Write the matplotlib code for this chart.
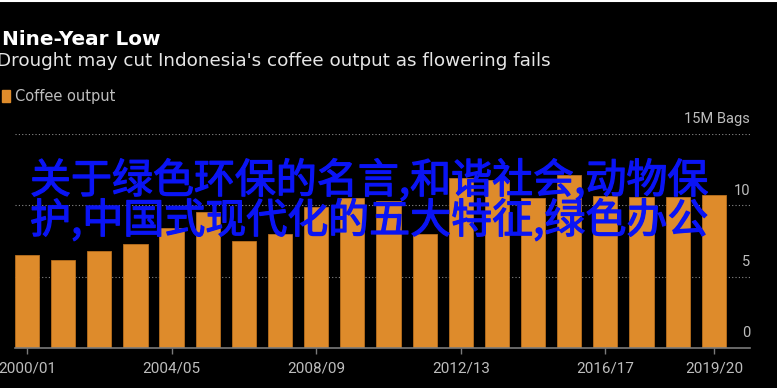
import matplotlib
matplotlib.use("Agg")
import matplotlib.pyplot as plt
import matplotlib.patheffects as pe

# Data (million 60-kg bags)
seasons = ["2000/01", "2001/02", "2002/03", "2003/04", "2004/05", "2005/06",
           "2006/07", "2007/08", "2008/09", "2009/10", "2010/11", "2011/12",
           "2012/13", "2013/14", "2014/15", "2015/16", "2016/17", "2017/18",
           "2018/19", "2019/20"]
output = [6.5, 6.2, 6.8, 7.3, 8.4, 9.5, 7.5, 8.0, 9.9, 10.5,
          10.3, 8.0, 11.9, 11.8, 10.5, 12.1, 10.65, 10.55, 10.6, 10.7]
shown_seasons = ["2000/01", "2004/05", "2008/09", "2012/13", "2016/17", "2019/20"]
y_ticks = [0, 5, 10, 15]
y_labels = ["0", "5", "10", "15M Bags"]

overlay_1 = "关于绿色环保的名言,和谐社会,动物保"
overlay_2 = "护,中国式现代化的五大特征,绿色办公"

W, H = 777, 388
bar_color = "#de8b2b"
text_grey = "#bdbdbd"
line_grey = "#7a7a7a"

fig = plt.figure(figsize=(W / 100, H / 100), dpi=100, facecolor="black")
ax = fig.add_axes([15 / W, 40 / H, 735 / W, 214 / H], facecolor="black")

x = list(range(len(seasons)))
ax.bar(x, output, width=0.67, color=bar_color, edgecolor="#b86f1e", linewidth=0.6, zorder=2)
ax.set_xlim(-0.33, len(seasons))
ax.set_ylim(0, 15)

# dotted gridlines + labels sitting above them at the right
for v, lab in zip(y_ticks, y_labels):
    if v > 0:
        ax.axhline(v, color="#8a8a8a", linestyle=(0, (1, 2)), linewidth=0.8, zorder=1)
    ax.annotate(lab, xy=(1, v), xycoords=("axes fraction", "data"),
                xytext=(0, 10.5), textcoords="offset points",
                ha="right", va="center", color=text_grey,
                fontsize=10.5, family="Roboto")

for s in ["top", "left", "right"]:
    ax.spines[s].set_visible(False)
ax.spines["bottom"].set_color(line_grey)
ax.spines["bottom"].set_linewidth(1.2)
ax.set_yticks([])
ax.set_xticks([seasons.index(s) for s in shown_seasons])
ax.set_xticklabels(shown_seasons, family="Roboto", fontsize=11)
ax.tick_params(axis="x", colors=line_grey, labelcolor=text_grey, length=4, width=1, pad=6)

# title block
fig.text(2 / W, 1 - 45 / H, "Nine-Year Low", color="white", fontsize=14.4,
         fontweight="bold", family="DejaVu Sans", ha="left", va="baseline")
fig.text(-3 / W, 1 - 66 / H, "Drought may cut Indonesia's coffee output as flowering fails",
         color="#e6e6e6", fontsize=13.2, family="DejaVu Sans", ha="left", va="baseline")
fig.patches.append(plt.Rectangle((2 / W, 1 - 102 / H), 8 / W, 12 / H,
                                 transform=fig.transFigure, color=bar_color))
fig.text(15 / W, 1 - 101 / H, "Coffee output", color=text_grey, fontsize=10.5,
         family="DejaVu Sans", ha="left", va="baseline")

# white rule at the very top
fig.add_artist(plt.Line2D([0, 1], [1 - 1 / H, 1 - 1 / H], transform=fig.transFigure,
                          color="white", linewidth=1.5))

# overlay text (regular weight, slightly thickened)
cjk = ["Noto Sans CJK SC", "DejaVu Sans"]
blue = "#0a14f5"
thick = [pe.withStroke(linewidth=0.9, foreground=blue)]
fig.text(30 / W, 1 - 193 / H, overlay_1, color=blue, fontsize=29.5,
         family=cjk, ha="left", va="baseline", path_effects=thick)
fig.text(30 / W, 1 - 233 / H, overlay_2, color=blue, fontsize=29.5,
         family=cjk, ha="left", va="baseline", path_effects=thick)

fig.savefig("out.png", dpi=100, facecolor="black")
